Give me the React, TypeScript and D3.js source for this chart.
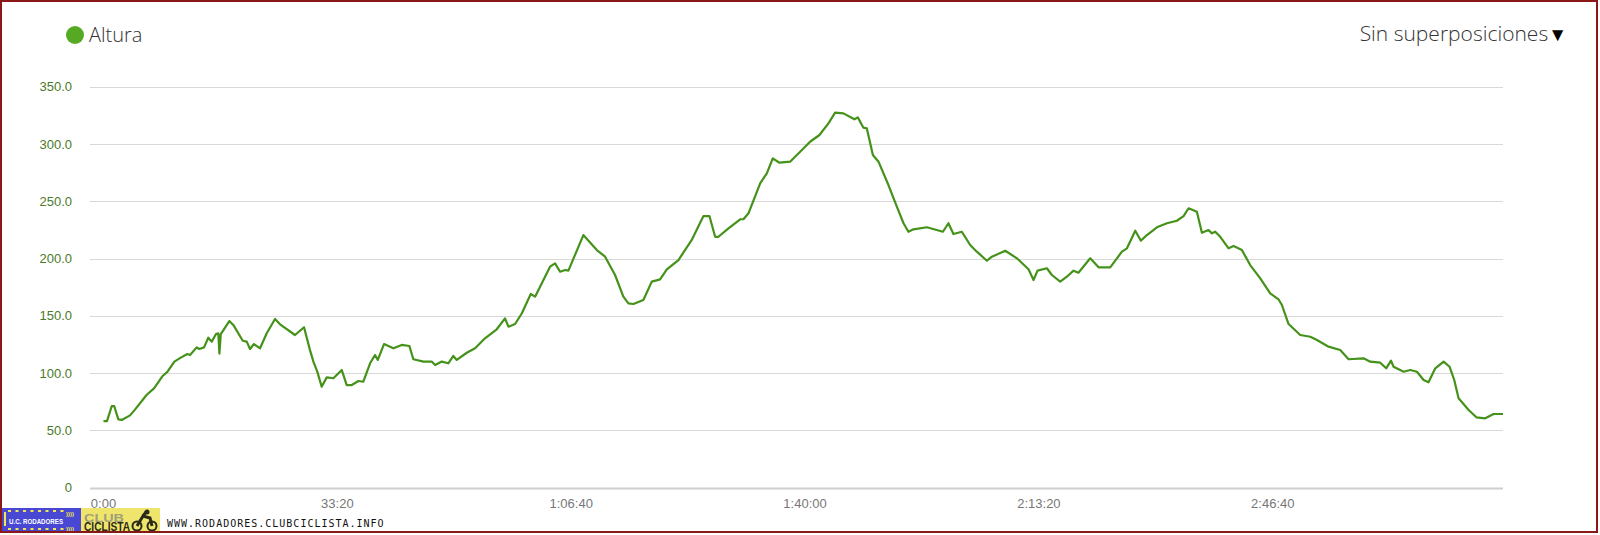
import React from "react";
import * as d3 from "d3";

const timeSec = [0,30,70,92,127,156,227,269,370,432,506,546,606,654,717,740,797,819,860,896,926,962,982,991,1003,1076,1110,1191,1225,1253,1287,1339,1396,1467,1510,1638,1715,1766,1795,1829,1866,1909,1966,2038,2080,2123,2180,2222,2280,2322,2346,2399,2479,2551,2616,2650,2736,2807,2836,2893,2949,2992,3021,3107,3178,3263,3363,3434,3463,3520,3577,3654,3691,3819,3862,3905,3948,3976,4104,4219,4290,4375,4446,4489,4532,4617,4689,4760,4818,4917,5031,5131,5182,5231,5259,5345,5445,5473,5516,5616,5673,5724,5781,5872,5958,6043,6123,6200,6257,6328,6422,6451,6499,6528,6580,6628,6713,6785,6842,6884,6927,7042,7179,7226,7269,7341,7412,7469,7555,7598,7712,7812,7911,7954,7988,8068,8111,8182,8239,8296,8338,8439,8510,8610,8667,8710,8753,8824,8872,8924,9009,9095,9180,9237,9280,9351,9394,9450,9480,9508,9551,9622,9665,9736,9807,9893,9978,10049,10078,10135,10235,10321,10378,10477,10577,10648,10776,10834,10919,10970,11011,11033,11119,11176,11233,11290,11332,11390,11461,11512,11552,11589,11675,11741,11817,11889,11969];

const altitude = [58,58,71,71,59.5,59,63,68,81,86.6,97.4,101,110,113,116.6,115.7,122.4,121,122.4,130.8,127.4,134,134.7,117,134,145.4,142,128.2,127.4,121,125.3,121.6,134.7,147.2,142.5,133.2,140,120,110,101,88,96.2,95.4,102.6,89.5,89.5,93,92.4,108.5,115.7,111.4,125.3,121.6,124.5,123.6,112,110,110,107,110,108.5,114.9,111.4,117.7,121.6,130.3,138.2,147.8,140.5,142.8,152,169,166.7,192.9,195.8,188.5,190,189.4,220.5,207.4,201.6,185.6,166.7,160.9,160.3,163.8,179.8,181.8,190.6,198.7,216.2,237.1,237.1,219,219,226.4,234.3,234.3,239.5,265.7,274.4,287.5,283.7,284.6,293.3,302,307.9,318.1,327.4,326.8,321.6,323.3,314.3,313.7,290.4,284.6,264.2,245.3,230.8,223.4,225.5,227.3,223.4,230.8,221.4,223.4,211.8,206,198.1,201.6,206.8,200.2,190.6,181.2,189.4,191.5,185.6,179.8,184.1,189.4,187.6,200.2,192.3,192.3,200.2,206,208.9,224.3,215.6,220.5,227.3,230.8,233,237.1,243.9,240.9,222.6,224.9,222,223.4,219,208.9,210.9,207.4,194.3,182.7,169.6,164.4,159.4,142.8,133.2,131.7,128.8,123,120.1,112,112.8,109.9,109,104.1,110.8,105.5,101.1,102.6,101.1,93.9,91.9,104.1,109.9,105.5,93.9,77.9,67.7,61.3,60.4,64.2,64.2];

const yTicks = [0, 50, 100, 150, 200, 250, 300, 350];
const xTicks = [0, 2000, 4000, 6000, 8000, 10000];
const seriesName = "Altura";
const overlayLabel = "Sin superposiciones";
const footerUrl = "WWW.RODADORES.CLUBCICLISTA.INFO";

const W = 1600;
const H = 535;
const gridLeft = 90;
const gridRight = 1503;
const lineLeft = 103.5;

function fmtTime(s: number) {
  const h = Math.floor(s / 3600);
  const m = Math.floor((s % 3600) / 60);
  const sec = Math.round(s % 60);
  const p = (n: number) => String(n).padStart(2, "0");
  return h > 0 ? `${h}:${p(m)}:${p(sec)}` : `${m}:${p(sec)}`;
}

export default function App() {
  const x = d3.scaleLinear().domain([0, 11969]).range([lineLeft, gridRight]);
  const y = d3.scaleLinear().domain([0, 350]).range([487.5, 86.8]);
  const data = timeSec.map((t, i) => [t, altitude[i]] as [number, number]);
  const line = d3
    .line<[number, number]>()
    .x((d) => x(d[0]))
    .y((d) => y(d[1]));

  return (
    <svg
      width={W}
      height={H}
      style={{ position: "absolute", left: 0, top: 0, background: "#fff" }}
    >
      <rect x={0} y={0} width={W} height={H} fill="#fff" />
      {yTicks.map((v) => (
        <g key={v}>
          <line
            x1={gridLeft}
            x2={gridRight}
            y1={Math.round(y(v)) + 0.5}
            y2={Math.round(y(v)) + 0.5}
            stroke={v === 0 ? "#cfcfcf" : "#d9d9d9"}
            strokeWidth={v === 0 ? 2 : 1}
          />
          <text
            x={72}
            y={y(v)}
            dy="0.35em"
            textAnchor="end"
            fontFamily="Arial, 'Liberation Sans', sans-serif"
            fontSize={13}
            fill="#4a7a2a"
          >
            {v === 0 ? "0" : v.toFixed(1)}
          </text>
        </g>
      ))}
      {xTicks.map((t) => (
        <text
          key={t}
          x={x(t)}
          y={508}
          textAnchor="middle"
          fontFamily="Arial, 'Liberation Sans', sans-serif"
          fontSize={13}
          fill="#777"
        >
          {fmtTime(t)}
        </text>
      ))}
      <path
        d={line(data) || ""}
        fill="none"
        stroke="#45921a"
        strokeWidth={2.2}
        strokeLinejoin="round"
      />
      {/* legend */}
      <circle cx={75} cy={35} r={9} fill="#55a923" />
      <text
        x={89}
        y={42}
        fontFamily="'Open Sans', sans-serif"
        fontWeight={300}
        fontSize={20}
        fill="#333"
      >
        {seriesName}
      </text>
      <text
        x={1567}
        y={41}
        textAnchor="end"
        fontFamily="'Open Sans', sans-serif"
        fontWeight={300}
        fontSize={21}
        fill="#333"
      >
        {overlayLabel}
        <tspan fill="#000" fontFamily="'DejaVu Sans', sans-serif" fontSize={19}>▼</tspan>
      </text>
      {/* footer logo */}
      <rect x={2} y={508} width={79} height={24} fill="#4848d4" />
      {d3.range(8).map((i) => (
        <rect key={"t" + i} x={8 + i * 7.5} y={510} width={3} height={2} fill="#f2e64a" />
      ))}
      {d3.range(8).map((i) => (
        <rect key={"b" + i} x={8 + i * 7.5} y={528} width={3} height={2} fill="#f2e64a" />
      ))}
      <rect x={4} y={512} width={2} height={14} fill="#f2e64a" />
      <text x={66} y={516} fontFamily="Arial" fontWeight={700} fontSize={6} fill="#f2e64a">))))</text>
      <text x={66} y={531} fontFamily="Arial" fontWeight={700} fontSize={6} fill="#f2e64a">))))</text>
      <text
        x={9}
        y={524}
        fontFamily="'Liberation Sans Narrow', 'Arial Narrow', Arial"
        fontWeight={700}
        fontSize={8}
        fill="#fff"
        textLength={54}
        lengthAdjust="spacingAndGlyphs"
      >
        U.C. RODADORES
      </text>
      <rect x={81} y={508} width={79} height={24} fill="#efe56c" />
      <text
        x={84}
        y={522}
        fontFamily="Arial"
        fontWeight={700}
        fontSize={11}
        fill="#a09f78"
        textLength={40}
        lengthAdjust="spacingAndGlyphs"
      >
        CLUB
      </text>
      <text
        x={84}
        y={531}
        fontFamily="Arial"
        fontWeight={700}
        fontSize={12}
        fill="#2a2a1a"
        textLength={46}
        lengthAdjust="spacingAndGlyphs"
      >
        CICLISTA
      </text>
      <circle cx={137} cy={526} r={4.5} fill="none" stroke="#2a2a1a" strokeWidth={2} />
      <circle cx={152} cy={526} r={4.5} fill="none" stroke="#2a2a1a" strokeWidth={2} />
      <path d="M137 526 L143 516 L150 518 L152 526 M143 516 L146 512" stroke="#2a2a1a" strokeWidth={3} fill="none" />
      <circle cx={147} cy={512} r={2.5} fill="#2a2a1a" />
      <text
        x={167}
        y={527}
        fontFamily="'DejaVu Sans Mono', monospace"
        fontSize={10}
        letterSpacing={1}
        fill="#111"
      >
        {footerUrl}
      </text>
      {/* frame */}
      <rect x={1} y={1} width={1596} height={531} fill="none" stroke="#8a1818" strokeWidth={2} />
    </svg>
  );
}
